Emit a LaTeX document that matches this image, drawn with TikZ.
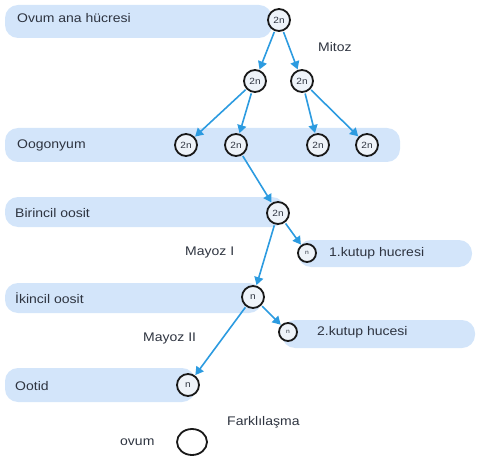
\documentclass[tikz,border=0pt]{standalone}
\usepackage{fontspec}
\setmainfont[FakeStretch=1.12]{Liberation Sans}
\usetikzlibrary{arrows.meta,shapes.geometric}
\definecolor{bandblue}{HTML}{D3E5FA}
\definecolor{arrowblue}{HTML}{2C9BE0}
\definecolor{txt}{HTML}{2E3440}
\definecolor{cellfill}{HTML}{EEF3F9}
\tikzset{
  band/.style={fill=bandblue, draw=none, rounded corners=13pt},
  bandlabel/.style={anchor=west, inner sep=0pt, text=txt, font=\fontsize{12.5}{14}\selectfont},
  sidelabel/.style={anchor=west, inner sep=0pt, text=txt, font=\fontsize{12.5}{14}\selectfont},
  cell/.style={circle, draw=black!90, line width=1.8pt, fill=cellfill, minimum size=22pt, inner sep=0pt, text=txt, font=\fontsize{9}{10}\selectfont},
  smallcell/.style={cell, minimum size=18pt, font=\fontsize{6}{7}\selectfont},
  arr/.style={draw=arrowblue, line width=1.6pt, -{Triangle[length=8pt,width=9pt]}, shorten >=0.5pt, shorten <=1pt}
}
\begin{document}
\begin{tikzpicture}[x=1pt,y=-1pt]
\useasboundingbox (0,0) rectangle (478,462);
% bands
\fill[band] (5,5) rectangle (272,38);
\fill[band] (5,128) rectangle (400,162);
\fill[band] (5,197) rectangle (285,227);
\fill[band] (298,240) rectangle (472,267);
\fill[band] (5,283) rectangle (262,313);
\fill[band] (282,320) rectangle (475,348);
\fill[band] (5,368) rectangle (195,402);
% band labels
\node[bandlabel] (l1) at (17,18) {Ovum ana hücresi};
\node[bandlabel] (l2) at (17,145) {Oogonyum};
\node[bandlabel] (l3) at (15,213) {Birincil oosit};
\node[bandlabel] (l4) at (15,298) {İkincil oosit};
\node[bandlabel] (l5) at (15,386) {Ootid};
\node[bandlabel] (l6) at (329,253) {1.kutup hucresi};
\node[bandlabel] (l7) at (317,332) {2.kutup hucesi};
% side labels
\node[sidelabel] (mitoz) at (318,47) {Mitoz};
\node[sidelabel] (mayoz1) at (185,252) {Mayoz I};
\node[sidelabel] (mayoz2) at (143,338) {Mayoz II};
\node[sidelabel] (fark) at (227,422) {Farklılaşma};
\node[sidelabel] (ovum) at (120,442) {ovum};
% cells
\node[cell] (c0) at (279,20) {2n};
\node[cell] (c1a) at (255,81) {2n};
\node[cell] (c1b) at (302,81) {2n};
\node[cell] (o1) at (186,145) {2n};
\node[cell] (o2) at (236,145) {2n};
\node[cell] (o3) at (318,145) {2n};
\node[cell] (o4) at (367,145) {2n};
\node[cell] (b1) at (278,213) {2n};
\node[smallcell] (k1) at (307,253) {n};
\node[cell] (i1) at (253,297) {n};
\node[smallcell] (k2) at (288,332) {n};
\node[cell] (t1) at (188,385) {n};
\node[ellipse, draw=black!90, line width=1.8pt, fill=white, minimum width=30pt, minimum height=26pt, inner sep=0pt] (ov) at (192,442) {};
% arrows
\draw[arr] (c0) -- (c1a);
\draw[arr] (c0) -- (c1b);
\draw[arr] (c1a) -- (o1);
\draw[arr] (c1a) -- (o2);
\draw[arr] (c1b) -- (o3);
\draw[arr] (c1b) -- (o4);
\draw[arr] (o2) -- (b1);
\draw[arr] (b1) -- (k1);
\draw[arr] (b1) -- (i1);
\draw[arr] (i1) -- (k2);
\draw[arr] (i1) -- (t1);
\end{tikzpicture}
\end{document}
